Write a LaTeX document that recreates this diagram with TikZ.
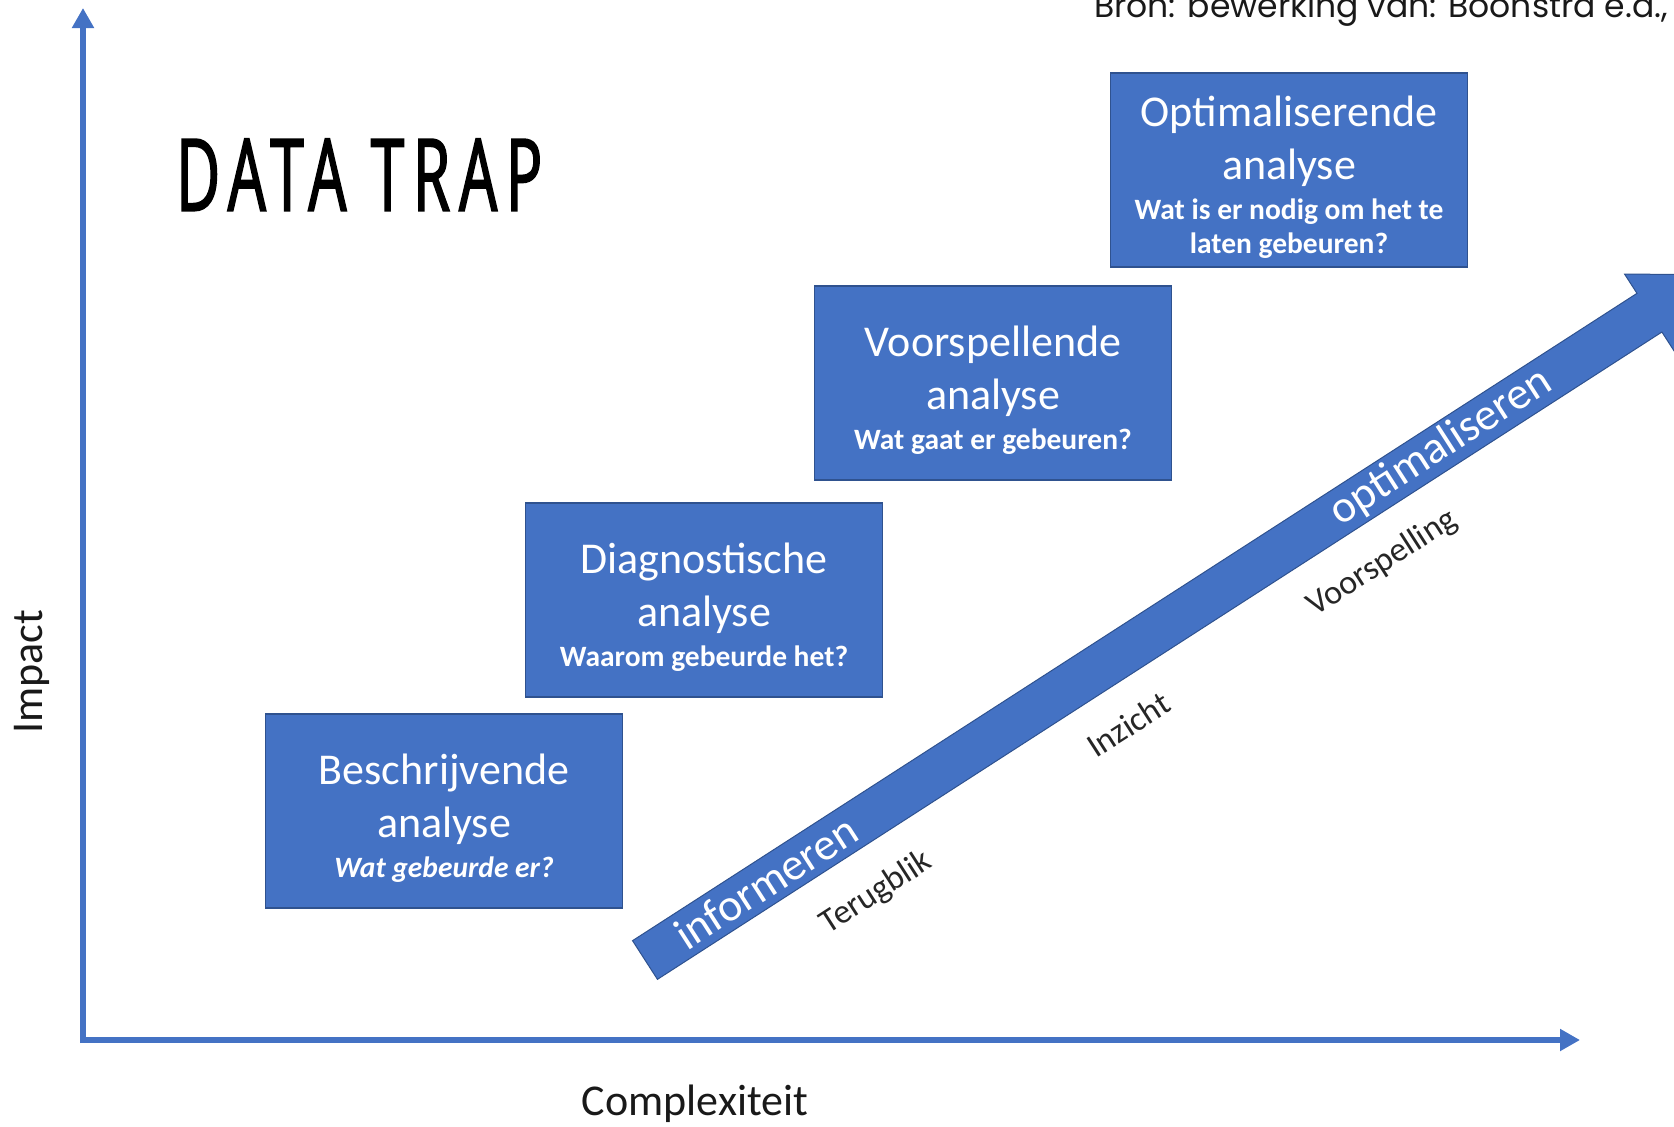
\documentclass[tikz,border=0pt]{standalone}
\usepackage{graphicx}
\usepackage{fontspec}
\setmainfont{Carlito}
\newfontfamily\bronfont{Poppins}
\newfontfamily\trapfont[FakeStretch=0.62,FakeBold=1.6,LetterSpace=9]{Open Sans}
\usetikzlibrary{arrows.meta}

\definecolor{officeblue}{HTML}{4472C4}
\definecolor{officeline}{HTML}{2F528F}

\tikzset{
  stepbox/.style={fill=officeblue, draw=officeline, line width=1.5pt,
    minimum width=357pt, minimum height=194pt, inner sep=0pt,
    align=center, text=white, font=\fontsize{44}{53}\selectfont},
  axis/.style={officeblue, line width=6pt, -{Triangle[length=20pt,width=21pt]}},
  alongbig/.style={text=white, font=\fontsize{45.5}{55}\selectfont},
  alongsmall/.style={text=black!85, font=\fontsize{34}{41}\selectfont},
  axislabel/.style={text=black!90, font=\fontsize{44}{53}\selectfont},
}
\newcommand{\subq}[1]{{\bfseries\fontsize{29.5}{34}\selectfont #1}}
\newcommand{\topstrut}{\rule{0pt}{44pt}}

\begin{document}
\begin{tikzpicture}[x=1pt, y=-1pt]
  \useasboundingbox (0,0) rectangle (1674,1127);
  \clip (0,0) rectangle (1674,1127);

  % axes
  \coordinate (origin) at (83,1040);
  \coordinate (ytop) at (83,8);
  \coordinate (xend) at (1580,1040);
  \draw[axis] ([yshift=-3pt]origin) -- (ytop);
  \draw[axis] (origin) -- (xend);
  \node[axislabel, rotate=90, anchor=base] (impact) at (42,672) {Impact};
  \node[axislabel, anchor=base] (complex) at (695,1115) {Complexiteit};

  % title and source
  \node[anchor=south west, inner sep=0pt] (titel) at (176,211)
    {\resizebox{366pt}{72pt}{\trapfont DATA TRAP}};
  \node[anchor=base west, inner sep=0pt, text=black!90,
    font=\bronfont\fontsize{33}{40}\selectfont] (bron) at (1094,17)
    {Bron: bewerking van: Boonstra e.d.,};

  % the four steps
  \node[stepbox] (beschrijvend) at (444,811)
    {\topstrut Beschrijvende\\analyse\\[-13pt]\subq{\itshape Wat gebeurde er?}};
  \node[stepbox] (diagnostisch) at (704,600)
    {\topstrut Diagnostische\\analyse\\[-13pt]\subq{Waarom gebeurde het?}};
  \node[stepbox] (voorspellend) at (993,383)
    {\topstrut Voorspellende\\analyse\\[-13pt]\subq{Wat gaat er gebeuren?}};
  \node[stepbox] (optimaliserend) at (1289,170)
    {\topstrut Optimaliserende\\analyse\\[-13pt]\subq{Wat is er nodig om het te}\\[-19pt]\subq{laten gebeuren?}};

  % big arrow
  \begin{scope}[shift={(645,960)}, rotate=32.8, transform shape]
    \filldraw[fill=officeblue, draw=officeline, line width=1pt]
      (0,-23) -- (1195,-23) -- (1195,-46) -- (1265,0)
      -- (1195,46) -- (1195,23) -- (0,23) -- cycle;
    \node[alongbig] (informeren) at (144,0) {informeren};
    \node[alongbig] (optimaliseren) at (947,0) {optimaliseren};
    \node[alongsmall] (terugblik) at (231,69) {Terugblik};
    \node[alongsmall] (inzicht) at (534,64) {Inzicht};
    \node[alongsmall] (voorspelling) at (835,66) {Voorspelling};
  \end{scope}
\end{tikzpicture}
\end{document}
